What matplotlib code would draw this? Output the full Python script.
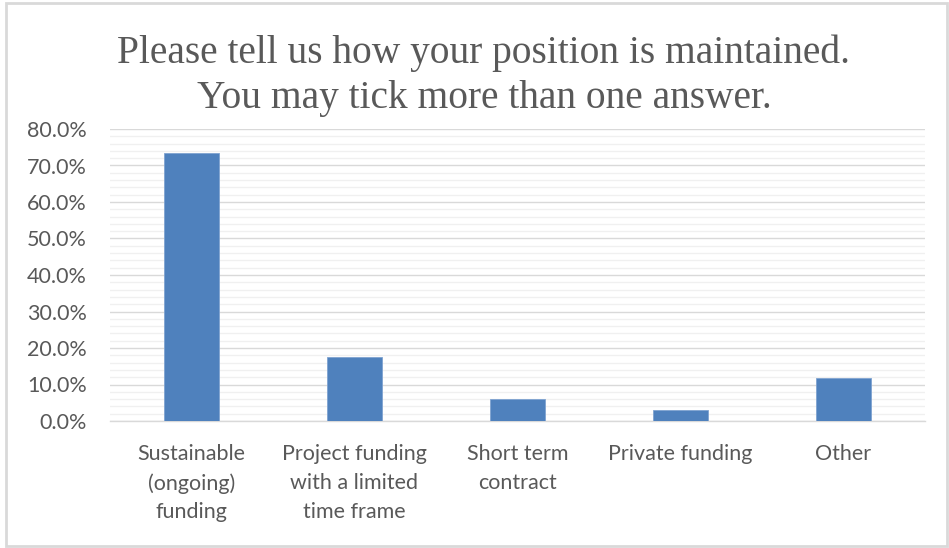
import matplotlib
matplotlib.use("Agg")
import matplotlib.pyplot as plt
from matplotlib.ticker import MultipleLocator, FuncFormatter
from matplotlib.patches import Rectangle

categories = [
    "Sustainable\n(ongoing)\nfunding",
    "Project funding\nwith a limited\ntime frame",
    "Short term\ncontract",
    "Private funding",
    "Other",
]
shares = [73.5, 17.6, 5.9, 2.9, 11.8]
title = "Please tell us how your position is maintained.\nYou may tick more than one answer."

bar_color = "#4f81bd"
text_gray = "#595959"

fig = plt.figure(figsize=(9.49, 5.48), dpi=100)
fig.patches.append(Rectangle((0.006, 0.004), 0.992, 0.99, transform=fig.transFigure,
                             fill=False, edgecolor="#d9d9d9", linewidth=2))

ax = fig.add_axes([110 / 949, 127 / 548, 815 / 949, 292 / 548])
x = range(len(categories))
ax.bar(x, shares, width=0.34, color=bar_color, edgecolor="#7fa3d1", linewidth=0.6, zorder=3)

ax.set_ylim(0, 80)
ax.set_xlim(-0.5, len(categories) - 0.5)
ax.yaxis.set_major_locator(MultipleLocator(10))
ax.yaxis.set_minor_locator(MultipleLocator(2))
ax.yaxis.set_major_formatter(FuncFormatter(lambda v, p: f"{v:.1f}%"))
ax.grid(axis="y", which="major", color="#d9d9d9", linewidth=1.0, zorder=0)
ax.grid(axis="y", which="minor", color="#f0f0f0", linewidth=1.0, zorder=0)

for side in ("top", "right", "left"):
    ax.spines[side].set_visible(False)
ax.spines["bottom"].set_color("#d9d9d9")
ax.spines["bottom"].set_linewidth(1.0)

ax.set_xticks(list(x))
ax.set_xticklabels(categories, fontsize=15.5, color=text_gray, family="Lato",
                   linespacing=1.55, va="top")
ax.tick_params(axis="x", length=0, pad=16.5)
ax.tick_params(axis="y", which="both", length=0, pad=16.5, labelsize=15.5,
               labelcolor=text_gray)
for lab in ax.get_yticklabels():
    lab.set_family("Lato")

fig.text(0.51, 0.937, title, ha="center", va="top", fontsize=28.4,
         family="Liberation Serif", color=text_gray, linespacing=1.29)

fig.savefig("out.png", dpi=100)
